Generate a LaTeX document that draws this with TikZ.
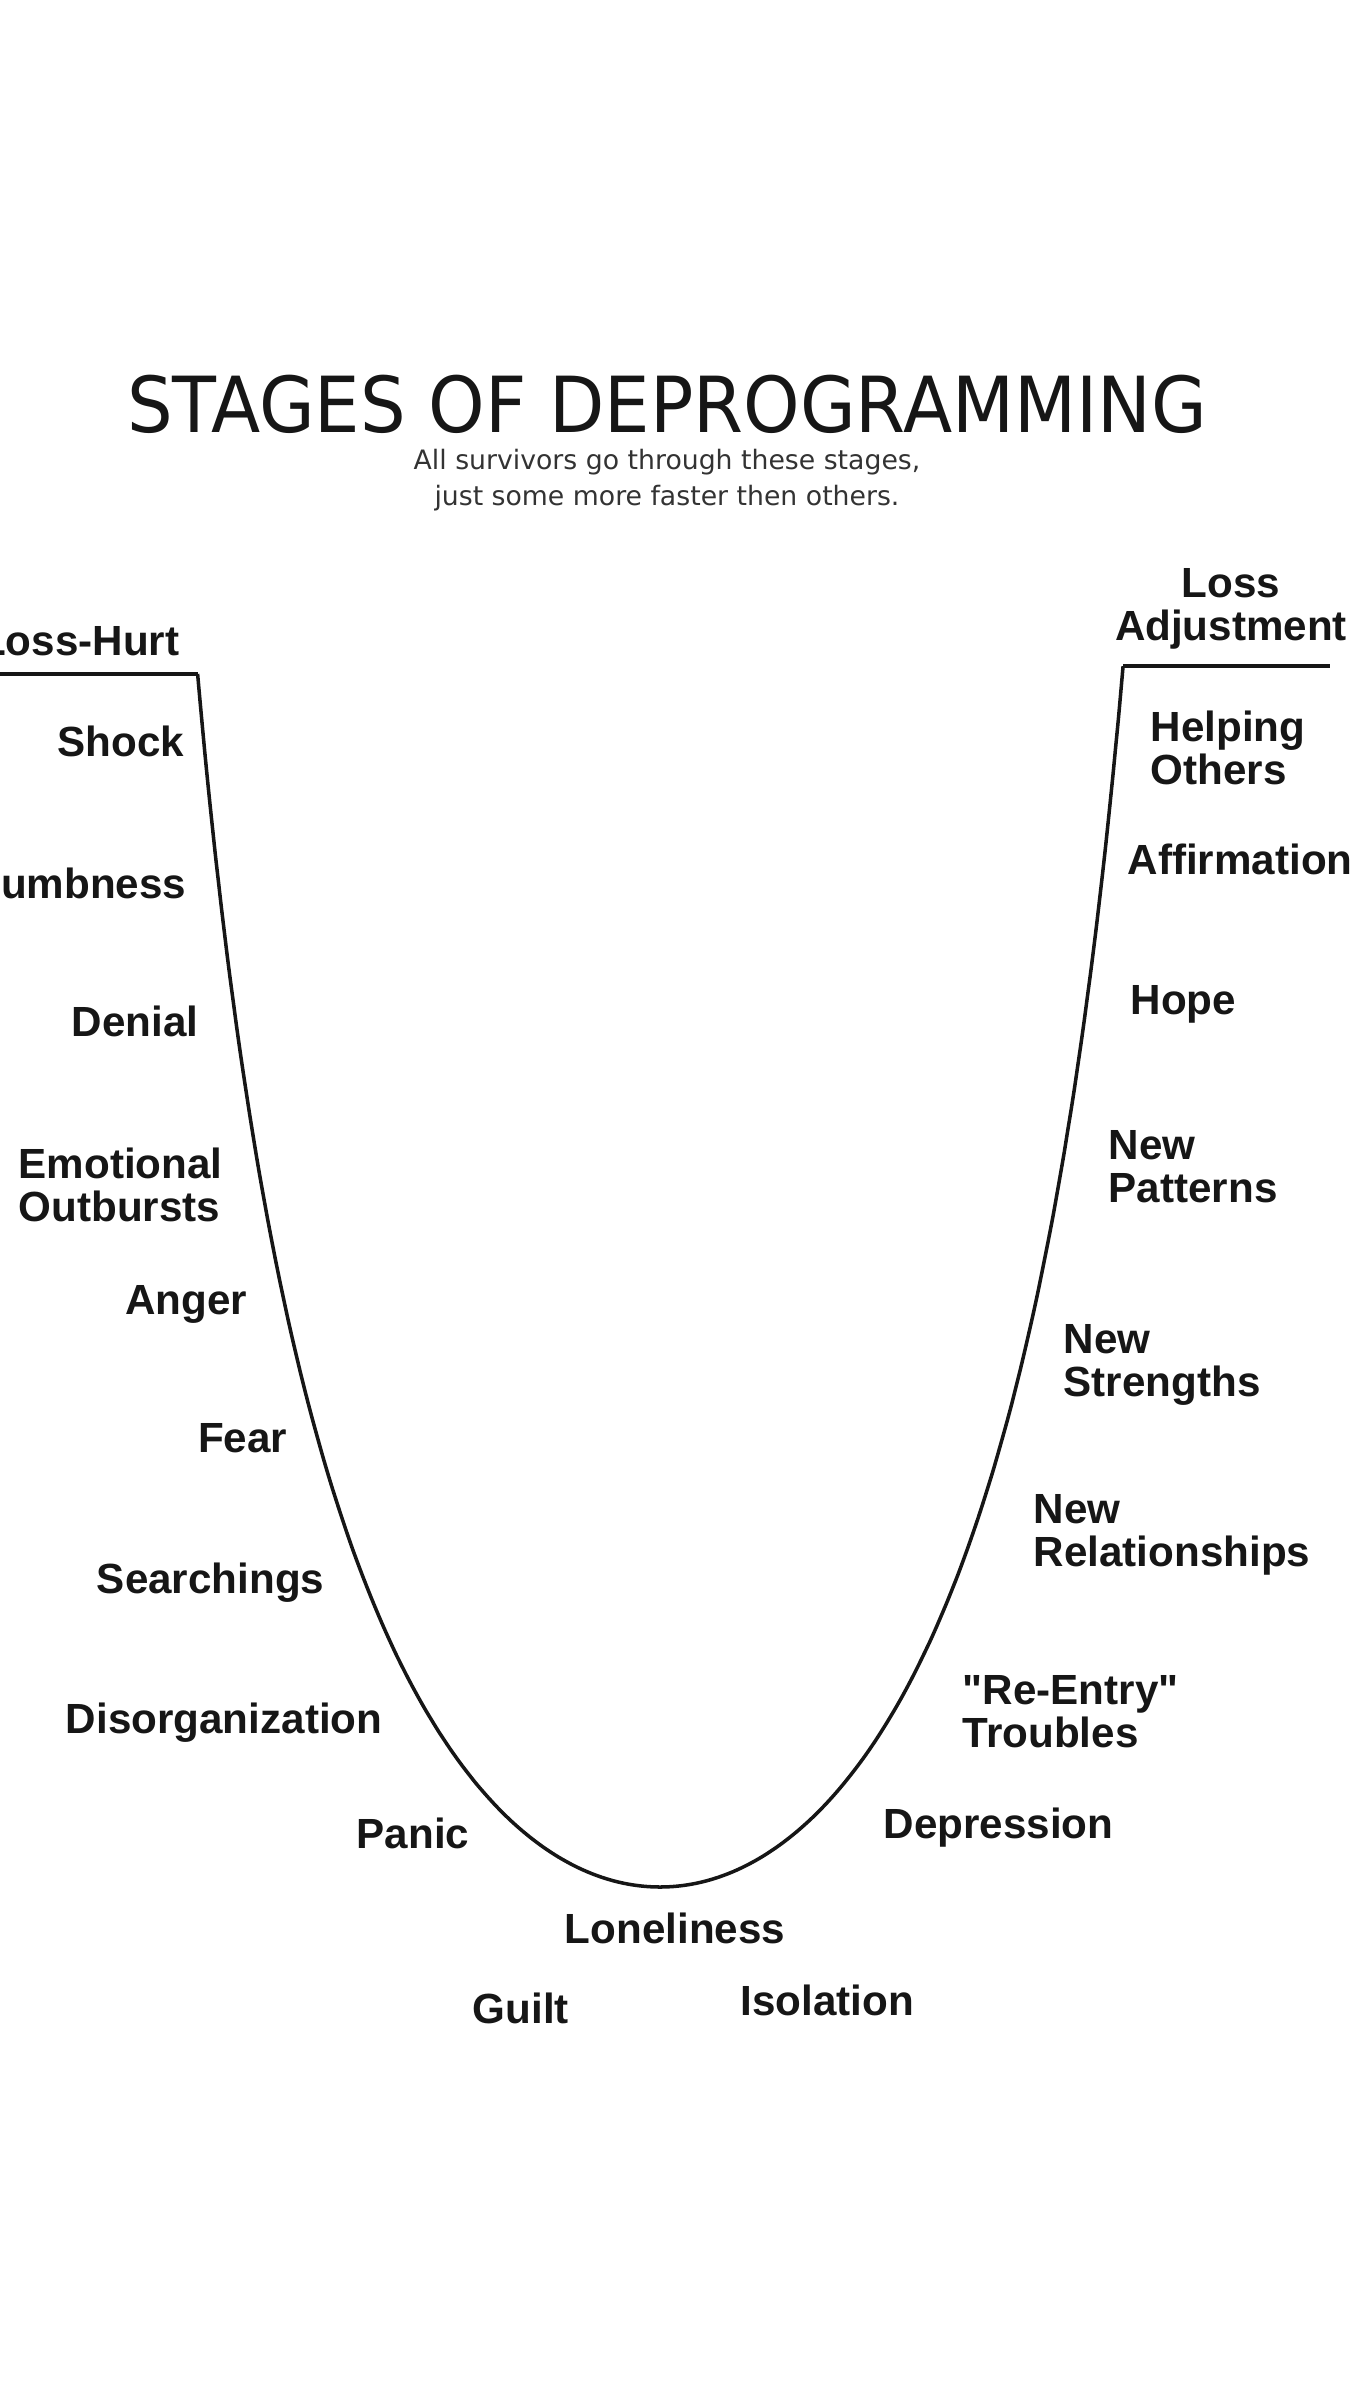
\documentclass[tikz,border=0pt]{standalone}
\usepackage{fontspec}
\setmainfont{Liberation Sans}
\newfontfamily\titlefont[FakeStretch=0.93]{DejaVu Sans}
\newfontfamily\notefont{DejaVu Sans}
\definecolor{inkblack}{HTML}{161616}
\definecolor{notegray}{HTML}{333333}
\tikzset{
  ucurve/.style={draw=inkblack, line width=1.0pt},
  ledge/.style={draw=inkblack, line width=1.4pt},
  stage/.style={
    text=inkblack,
    font=\fontsize{12}{12}\selectfont\bfseries,
    inner sep=0pt,
    align=left
  },
  stageleft/.style={stage, anchor=base east, align=right},
  stageright/.style={stage, anchor=base west}
}

\begin{document}
\begin{tikzpicture}[x=0.1mm,y=-0.1mm]
  \path[use as bounding box] (0,0) rectangle (1352,2400);

  \node[anchor=base, inner sep=0pt, text=inkblack, font=\titlefont\fontsize{22}{27}\selectfont] (title) at (667,433)
    {STAGES OF DEPROGRAMMING};
  \node[anchor=base, inner sep=0pt, align=center, text=notegray, font=\notefont\fontsize{7.6}{10.4}\selectfont] (note) at (667,506)
    {All survivors go through these stages,\\just some more faster then others.};

  \coordinate (hurtend) at (0,674);
  \coordinate (hurt) at (198,674);
  \coordinate (bottom) at (660,1887);
  \coordinate (adjust) at (1123,666);
  \coordinate (adjustend) at (1330,666);

  \draw[ledge] (hurtend) -- (hurt);
  \draw[ledge] (adjust) -- (adjustend);
  \draw[ucurve]
    plot[domain=34.83:0, samples=90, smooth]
      ({660 - 563*tanh(\x/30)}, {1887 - \x*\x})
    -- plot[domain=0:34.94, samples=90, smooth]
      ({660 + 563*tanh(\x/30)}, {1887 - \x*\x});

  \node[stageleft] (losshurt) at (180,655) {Loss-Hurt};
  \node[stageleft] (shock) at (185,756) {Shock};
  \node[stageleft] (numbness) at (187,898) {Numbness};
  \node[stageleft] (denial) at (199,1036) {Denial};
  \node[stageright] (outbursts) at (18,1221) {Emotional\\Outbursts};
  \node[stageleft] (anger) at (248,1314) {Anger};
  \node[stageleft] (fear) at (288,1452) {Fear};
  \node[stageleft] (searchings) at (325,1593) {Searchings};
  \node[stageleft] (disorg) at (383,1733) {Disorganization};
  \node[stageright] (panic) at (356,1848) {Panic};
  \node[stage, anchor=base] (loneliness) at (675,1943) {Loneliness};
  \node[stageright] (guilt) at (472,2023) {Guilt};
  \node[stageright] (isolation) at (740,2015) {Isolation};

  \node[stageright] (depression) at (883,1838) {Depression};
  \node[stageright] (reentry) at (962,1747) {\textquotedbl Re-Entry\textquotedbl\\Troubles};
  \node[stageright] (relations) at (1033,1566) {New\\Relationships};
  \node[stageright] (strengths) at (1063,1396) {New\\Strengths};
  \node[stageright] (patterns) at (1108,1202) {New\\Patterns};
  \node[stageright] (hope) at (1130,1014) {Hope};
  \node[stageright] (affirmation) at (1127,874) {Affirmation};
  \node[stageright] (helping) at (1150,784) {Helping\\Others};
  \node[stage, anchor=base, align=center] (adjustment) at (1231,640) {Loss\\Adjustment};
\end{tikzpicture}
\end{document}
